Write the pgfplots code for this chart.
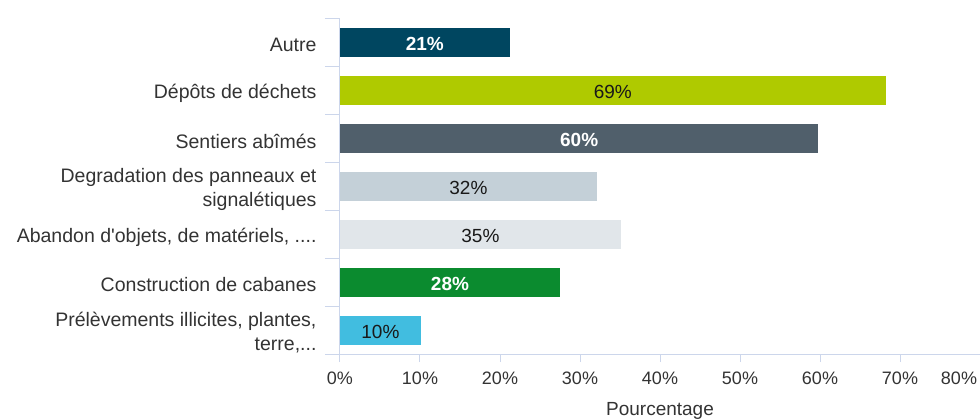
\documentclass[border=0pt]{standalone}
\usepackage{pgfplots}
\pgfplotsset{compat=1.18}
\usepackage{fontspec}
\setmainfont{Liberation Sans}
\definecolor{gridcol}{HTML}{CCD6EB}
\definecolor{txt}{HTML}{333333}
\definecolor{cA}{HTML}{004660}
\definecolor{cB}{HTML}{AFCA00}
\definecolor{cC}{HTML}{505F6B}
\definecolor{cD}{HTML}{C4D0D8}
\definecolor{cE}{HTML}{E1E6EA}
\definecolor{cF}{HTML}{0B8B2F}
\definecolor{cG}{HTML}{41BDE0}
\newcommand{\tdots}{...}
\newcommand{\fdots}{....}
\pgfplotsset{
  mybar/.style={xbar, bar shift=0pt, bar width=29pt, draw=none,
    nodes near coords, point meta=explicit symbolic,
    visualization depends on={x \as \xv},
    every node near coord/.append style={anchor=center, xshift={-4pt*\xv}, yshift=-2pt,
      font=\fontsize{19}{22}\selectfont}},
  wlab/.style={every node near coord/.append style={text=white, font=\fontsize{19}{22}\selectfont\bfseries}},
  blab/.style={every node near coord/.append style={text=black!90}},
}
\begin{document}
\begin{tikzpicture}
\begin{axis}[
  name=ax,
  scale only axis,
  width=640pt, height=336pt,
  xmin=0, xmax=80, ymin=-0.5, ymax=6.5,
  axis x line*=bottom, axis y line*=left,
  axis line style={draw=gridcol, line width=1pt, -},
  tick align=outside,
  tick style={draw=gridcol, line width=1pt},
  major tick length=8pt, minor tick length=15pt,
  every major y tick/.append style={draw=none},
  xtick={0,10,20,30,40,50,60,70},
  xticklabels={0\%,10\%,20\%,30\%,40\%,50\%,60\%,70\%},
  extra x ticks={80}, extra x tick labels={80\%},
  extra x tick style={xticklabel style={xshift=-21pt}},
  xticklabel style={font=\fontsize{18}{20}\selectfont, text=txt, yshift=-6pt},
  ytick={0,1,2,3,4,5,6},
  yticklabels={{Prélèvements illicites, plantes,\\terre,\tdots},
    {Construction de cabanes},
    {Abandon d\textquotesingle objets, de matériels, \fdots},
    {Degradation des panneaux et\\signalétiques},
    {Sentiers abîmés},
    {Dépôts de déchets},
    {Autre}},
  minor ytick={-0.5,0.5,1.5,2.5,3.5,4.5,5.5,6.5},
  yticklabel style={font=\fontsize{19.5}{24}\selectfont, text=txt, align=right, xshift=-12pt, yshift=-3pt},
  xlabel={Pourcentage},
  xlabel style={at={(axis description cs:0.5,0)}, anchor=north, yshift=-44.7pt,
    font=\fontsize{19}{22}\selectfont, text=txt},
]
\addplot[mybar, fill=cA, wlab] coordinates {(21.2,6) [21\%]};
\addplot[mybar, fill=cB, blab] coordinates {(68.2,5) [69\%]};
\addplot[mybar, fill=cC, wlab] coordinates {(59.8,4) [60\%]};
\addplot[mybar, fill=cD, blab] coordinates {(32.1,3) [32\%]};
\addplot[mybar, fill=cE, blab] coordinates {(35.1,2) [35\%]};
\addplot[mybar, fill=cF, wlab] coordinates {(27.5,1) [28\%]};
\addplot[mybar, fill=cG, blab] coordinates {(10.1,0) [10\%]};
\end{axis}
\pgfresetboundingbox
\path[use as bounding box] ([xshift=-340pt,yshift=-64pt]ax.south west) rectangle ([yshift=18pt]ax.north east);
\end{tikzpicture}
\end{document}
